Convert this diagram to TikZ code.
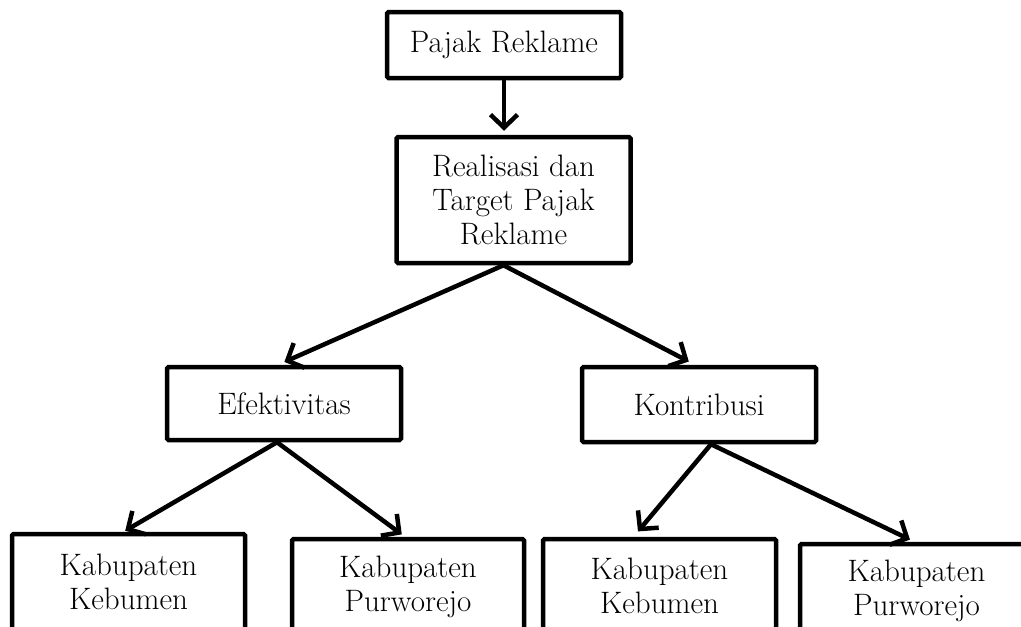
\documentclass[tikz,border=0pt]{standalone}
\usepackage{tikz}
\usetikzlibrary{arrows.meta}
\tikzset{
  kotak/.style={draw, line width=4.5pt, rounded corners=1.5pt, align=center,
    minimum width=234pt, font=\fontsize{31}{34}\selectfont},
  panah/.style={line width=4.5pt, -{Straight Barb[length=13pt,width=27pt,line width=4.5pt]}}
}
\begin{document}
\begin{tikzpicture}[x=1pt, y=-1pt]
\useasboundingbox (0,0) rectangle (1021,627);
\node[kotak, minimum height=66pt] (pajak) at (504,45) {Pajak Reklame};
\node[kotak, minimum height=126pt] (realisasi) at (513.5,200) {Realisasi dan\\Target Pajak\\Reklame};
\node[kotak, minimum height=73pt] (efektivitas) at (284,403.5) {Efektivitas};
\node[kotak, minimum height=75pt] (kontribusi) at (699,404.5) {Kontribusi};
\node[kotak, minimum width=233pt, minimum height=96pt] (kebumenA) at (128.5,582) {Kabupaten\\Kebumen};
\node[kotak, minimum width=232pt, minimum height=96pt] (purworejoA) at (408,587) {Kabupaten\\Purworejo};
\node[kotak, minimum width=233pt, minimum height=94pt] (kebumenB) at (659.5,586) {Kabupaten\\Kebumen};
\node[kotak, minimum width=233pt, minimum height=94pt] (purworejoB) at (916.5,591) {Kabupaten\\Purworejo};
\draw[panah, shorten >=4pt] (pajak.south) -- (realisasi.north -| pajak.south);
\draw[panah, shorten >=7pt] ([xshift=-10pt]realisasi.south) -- ([xshift=-6pt]efektivitas.north);
\draw[panah, shorten >=7pt] ([xshift=-10pt]realisasi.south) -- ([xshift=-4pt]kontribusi.north);
\draw[panah, shorten >=2pt] ([xshift=-7pt]efektivitas.south) -- ([xshift=-5pt]kebumenA.north);
\draw[panah, shorten >=4pt] ([xshift=-7pt]efektivitas.south) -- ([xshift=-3pt]purworejoA.north);
\draw[panah, shorten >=7pt] ([xshift=12pt]kontribusi.south) -- ([xshift=-26pt]kebumenB.north);
\draw[panah, shorten >=5pt] ([xshift=12pt]kontribusi.south) -- ([xshift=-2pt]purworejoB.north);
\end{tikzpicture}
\end{document}
